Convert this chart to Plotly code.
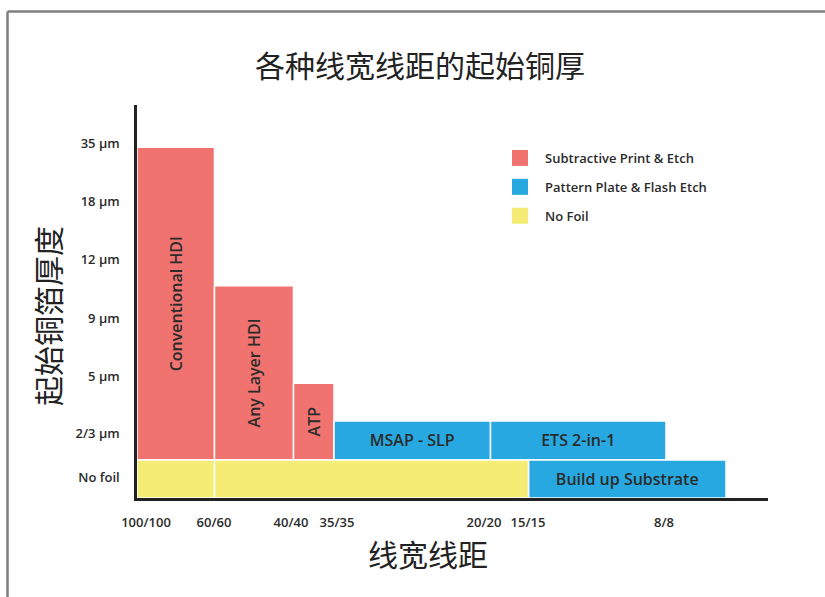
import plotly.graph_objects as go

# ---------------- data ----------------
# x axis: line width / spacing (schematic positions along the axis)
x_tick_pos = [0.9, 7.7, 15.4, 20.0, 34.7, 39.1, 52.7]
x_tick_text = ["100/100", "60/60", "40/40", "35/35", "20/20", "15/15", "8/8"]

# y axis: starting copper foil thickness levels (schematic positions)
y_tick_pos = [0.35, 1.12, 2.10, 3.10, 4.12, 5.12, 6.12]
y_tick_text = ["No foil", "2/3 µm", "5 µm", "9 µm", "12 µm", "18 µm", "35 µm"]

# Subtractive Print & Etch
sub_names = ["Conventional HDI", "Any Layer HDI", "ATP"]
sub_x0 = [0.0, 7.75, 15.65]
sub_x1 = [7.75, 15.65, 19.7]
sub_y0 = [0.655, 0.655, 0.655]
sub_y1 = [6.05, 3.66, 1.98]

# Pattern Plate & Flash Etch
pat_names = ["MSAP - SLP", "ETS 2-in-1", "Build up Substrate"]
pat_x0 = [19.7, 35.35, 39.15]
pat_x1 = [35.35, 52.9, 58.9]
pat_y0 = [0.655, 0.655, 0.0]
pat_y1 = [1.33, 1.33, 0.655]

# No Foil
nof_names = ["", ""]
nof_x0 = [0.0, 7.75]
nof_x1 = [7.75, 39.15]
nof_y0 = [0.0, 0.0]
nof_y1 = [0.655, 0.655]

series = [
    ("Subtractive Print & Etch", "#F07370", sub_names, sub_x0, sub_x1, sub_y0, sub_y1, -90),
    ("Pattern Plate & Flash Etch", "#27A8E0", pat_names, pat_x0, pat_x1, pat_y0, pat_y1, 0),
    ("No Foil", "#F4EC74", nof_names, nof_x0, nof_x1, nof_y0, nof_y1, 0),
]

FONT = "Open Sans"
CJK = "Noto Sans CJK SC"
TXT = "#2b2b2b"

fig = go.Figure()

for name, color, names, x0, x1, y0, y1, ang in series:
    fig.add_trace(go.Bar(
        x=[(a + b) / 2 for a, b in zip(x0, x1)],
        width=[b - a for a, b in zip(x0, x1)],
        base=y0,
        y=[b - a for a, b in zip(y0, y1)],
        text=names,
        textposition="inside",
        insidetextanchor="middle",
        textangle=ang,
        constraintext="none",
        textfont=dict(family=FONT, size=16, color=TXT, weight=600),
        marker=dict(color=color, line=dict(color="white", width=1.5)),
        name=name,
        legendgroup=name,
        showlegend=False,
        hoverinfo="skip",
    ))
    # legend entry with a larger square swatch
    fig.add_trace(go.Scatter(
        x=[None], y=[None], mode="markers",
        marker=dict(symbol="square", size=16, color=color),
        name=name, legendgroup=name, showlegend=True,
    ))

# geometry helpers (pixel -> paper)
L, R, T, B = 137, 768, 105, 498
W, H = R - L, B - T
def px_x(v): return (v - L) / W
def px_y(v): return (B - v) / H

# outer frame (top and left gray border)
frame = dict(type="line", xref="paper", yref="paper", line=dict(color="#7f7f7f", width=2.5))
fig.add_shape(x0=px_x(7.5), x1=px_x(830), y0=px_y(11.5), y1=px_y(11.5), **frame)
fig.add_shape(x0=px_x(7.5), x1=px_x(7.5), y0=px_y(11.5), y1=px_y(600), **frame)

# axis titles
fig.add_annotation(text="线宽线距", xref="paper", yref="paper",
                   x=px_x(428), y=px_y(553), xanchor="center", yanchor="middle",
                   showarrow=False, font=dict(family=CJK, size=30, color="#222"))
fig.add_annotation(text="起始铜箔厚度", xref="paper", yref="paper",
                   x=px_x(47), y=px_y(316), xanchor="center", yanchor="middle",
                   textangle=-90, showarrow=False,
                   font=dict(family=CJK, size=30, color="#222"))

fig.update_layout(
    width=825, height=597,
    margin=dict(l=L, r=825 - R, t=T, b=597 - B),
    paper_bgcolor="white", plot_bgcolor="white",
    barmode="overlay",
    title=dict(text="各种线宽线距的起始铜厚", x=0.509, xanchor="center",
               y=1 - 66 / 597, yanchor="middle",
               font=dict(family=CJK, size=30, color="#222")),
    legend=dict(x=px_x(495), y=px_y(143), xanchor="left", yanchor="top",
                font=dict(family=FONT, size=13, color=TXT, weight=600),
                itemwidth=40,
                tracegroupgap=9, bgcolor="rgba(0,0,0,0)"),
    xaxis=dict(range=[0, 63.1], tickvals=x_tick_pos, ticktext=x_tick_text,
               showgrid=False, zeroline=False, showline=True, linecolor="#222",
               linewidth=2.5, ticks="", ticklabelstandoff=11,
               tickfont=dict(family=FONT, size=13, color=TXT, weight=600)),
    yaxis=dict(range=[0, 6.78], tickvals=y_tick_pos, ticktext=y_tick_text,
               showgrid=False, zeroline=False, showline=True, linecolor="#222",
               linewidth=2.5, ticks="", ticklabelstandoff=12,
               tickfont=dict(family=FONT, size=13, color=TXT, weight=600)),
)

fig.write_html("out.html")
